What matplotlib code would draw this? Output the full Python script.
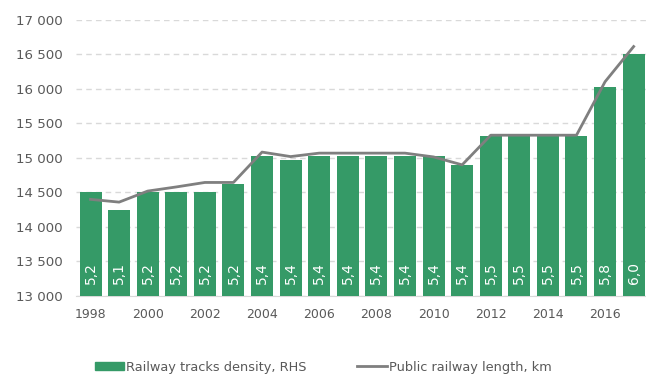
import numpy as np
import matplotlib.pyplot as plt
from matplotlib.patches import Patch
from matplotlib.lines import Line2D

# data
years = list(range(1998, 2018))
density = [5.20, 5.10, 5.20, 5.20, 5.20, 5.25, 5.41, 5.39, 5.41, 5.41,
           5.41, 5.41, 5.41, 5.36, 5.53, 5.53, 5.53, 5.53, 5.81, 6.00]
length_km = [14400, 14360, 14520, 14580, 14645, 14645, 15085, 15020, 15070, 15070,
             15070, 15070, 15015, 14900, 15330, 15330, 15330, 15330, 16105, 16615]
left_ticks = [13000, 13500, 14000, 14500, 15000, 15500, 16000, 16500, 17000]

green = "#359a67"
grey = "#7f7f7f"
txt = "#595959"

fig = plt.figure(figsize=(6.46, 3.77), dpi=100)
ax = fig.add_axes([0.118, 0.215, 0.885, 0.732])
ax2 = ax.twinx()

x = np.arange(len(years))

# bars on the (hidden) right axis
ax2.bar(x, density, width=0.77, color=green, zorder=2)
ax2.set_ylim(4.6, 6.2)
ax2.axis("off")
for xi, d in zip(x, density):
    ax2.text(xi, 4.668, f"{d:.1f}".replace(".", ","), rotation=90, color="white",
             ha="center", va="bottom", fontsize=10)

# line on the left axis, drawn above the bars
ax_line = fig.add_axes(ax.get_position(), sharex=ax, sharey=ax)
ax_line.patch.set_visible(False)
ax_line.axis("off")
ax_line.plot(x, length_km, color=grey, lw=2, zorder=3)

ax.set_ylim(13000, 17000)
ax.set_yticks(left_ticks)
ax.set_yticklabels([f"{v:,}".replace(",", " ") for v in left_ticks])
ax.set_xlim(-0.5, len(years) - 0.5)
ax.set_xticks(x[::2])
ax.set_xticklabels([str(y) for y in years[::2]])
ax.tick_params(length=0, colors=txt)
ax.tick_params(axis="y", labelsize=9.6, pad=10)
ax.tick_params(axis="x", labelsize=9, pad=9)
ax.grid(axis="y", color="#d9d9d9", ls=(0, (4, 3)), lw=1)
for s in ["top", "right", "left"]:
    ax.spines[s].set_visible(False)
ax.spines["bottom"].set_color("#d9d9d9")
ax.set_axisbelow(True)

handles = [Patch(color=green), Line2D([], [], color=grey, lw=2)]
labels = ["Railway tracks density, RHS", "Public railway length, km"]
fig.legend(handles, labels, loc="lower center", bbox_to_anchor=(0.5, -0.022), ncol=2,
           frameon=False, fontsize=9.3, labelcolor=txt, handlelength=2.3,
           handleheight=0.6, handletextpad=0.15, columnspacing=3.9)

fig.savefig("out.png", dpi=100)
